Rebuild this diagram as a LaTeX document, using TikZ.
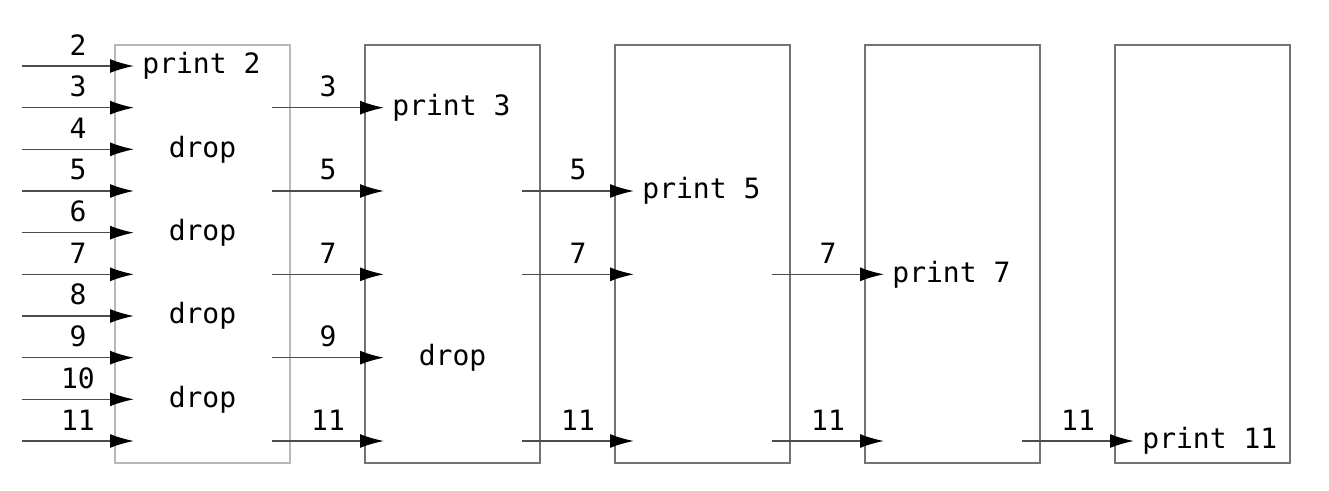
\documentclass[tikz,border=0pt]{standalone}
\usepackage{fontspec}
\setmonofont{DejaVu Sans Mono}
\usetikzlibrary{arrows.meta,positioning,calc}
\definecolor{sievegray}{gray}{0.45}
\definecolor{firstgray}{gray}{0.72}
\definecolor{feedgray}{gray}{0.3}
\tikzset{
  sieve/.style={draw=sievegray, line width=1pt, minimum width=87.5pt, minimum height=209pt, inner sep=0pt, outer sep=0pt},
  feed/.style={draw=feedgray, line width=0.8pt, -{Latex[length=12pt,width=7pt,black]}},
  num/.style={above=5pt, inner sep=0pt},
  say/.style={anchor=west, inner sep=4pt}
}

\begin{document}
\begin{tikzpicture}[x=0.5pt, y=-0.5pt, font=\ttfamily\fontsize{14}{17}\selectfont]
  \useasboundingbox (0,0) rectangle (1329,491);

  % Boxes
  \node[sieve, draw=firstgray] (b1) at (202.5,254) {};
  \node[sieve, right=37.5pt of b1] (b2) {};
  \node[sieve, right=37.5pt of b2] (b3) {};
  \node[sieve, right=37.5pt of b3] (b4) {};
  \node[sieve, right=37.5pt of b4] (b5) {};

  % Coordinates
  \foreach \k in {2,...,11}
    \coordinate (r\k) at (22, {66+(\k-2)*41.667});
  \foreach \i in {1,...,5}
    \foreach \k in {2,...,11} {
      \coordinate (t\i-\k) at ($(b\i.west |- r\k)+(9.5pt,0)$);
      \coordinate (o\i-\k) at ($(b\i.east |- r\k)+(-9pt,0)$);
    }

  % Numbers into the first box
  \foreach \k in {2,...,11}
    \draw[feed] (r\k) -- node[num] {\k} (t1-\k);

  % Numbers passed on
  \foreach \i/\j/\ks in {1/2/{3,5,7,9,11}, 2/3/{5,7,11}, 3/4/{7,11}, 4/5/{11}}
    \foreach \k in \ks
      \draw[feed] (o\i-\k) -- node[num] {\k} (t\j-\k);

  % Texts
  \node[say] (p2) at (t1-2) {print 2};
  \node[say] (p3) at (t2-3) {print 3};
  \node[say] (p5) at (t3-5) {print 5};
  \node[say] (p7) at (t4-7) {print 7};
  \node[say] (p11) at (t5-11) {print 11};
  \foreach \k in {4,6,8,10}
    \node (d\k) at (b1 |- r\k) {drop};
  \node (d9) at (b2 |- r9) {drop};
\end{tikzpicture}
\end{document}
